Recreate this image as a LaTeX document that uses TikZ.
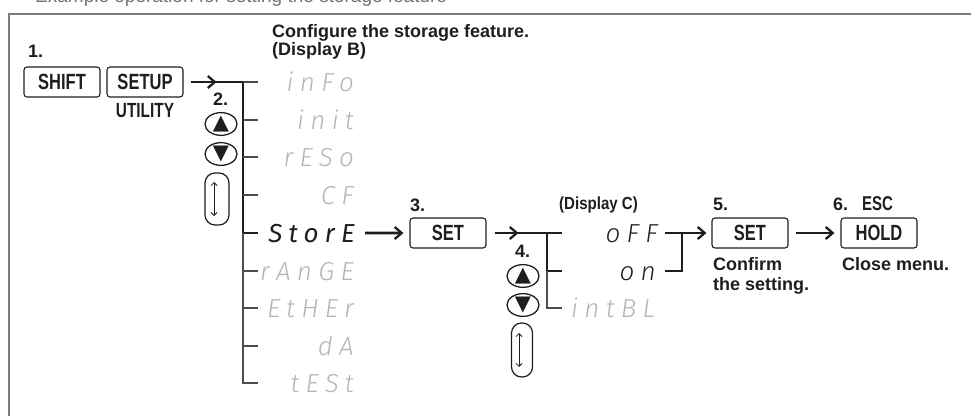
\documentclass[tikz,border=0pt]{standalone}
\usepackage{fontspec}
\setmainfont{Liberation Sans}
\newfontfamily\keyfont{Liberation Sans}[FakeStretch=0.75]
\newfontfamily\narrowfont{Liberation Sans}[FakeStretch=0.86]
\newfontfamily\segfont{Fira Sans Light Italic}[LetterSpace=24]
\newfontfamily\segfontB{Fira Sans Italic}[LetterSpace=24]
\newfontfamily\symfont{DejaVu Sans}
\usetikzlibrary{arrows.meta,shapes.geometric}
\definecolor{segoff}{HTML}{B4B4B4}
\definecolor{ink}{HTML}{1E1E1E}
\definecolor{framec}{HTML}{7A7A7A}
\begin{document}
\begin{tikzpicture}[x=1pt,y=-1pt,
  keybox/.style={draw=ink, line width=1.1pt, rounded corners=3pt, minimum width=76pt, minimum height=30pt, inner sep=0pt, text=ink, font=\keyfont\bfseries\fontsize{22}{22}\selectfont},
  lbl/.style={font=\bfseries\fontsize{18}{21}\selectfont, inner sep=0pt, anchor=base west, text=ink},
  seg/.style={font=\segfont\fontsize{26}{28}\selectfont, inner sep=0pt, anchor=base east, text=segoff},
  segon/.style={seg, text=ink},
  bus/.style={line width=2.6pt, draw=ink},
  tick/.style={line width=1.2pt, draw=black!70},
  arr/.style={bus, -{Straight Barb[length=7pt,width=12pt,line width=2.3pt]}},
  button/.style={draw=ink, ellipse, line width=1.3pt, minimum width=32pt, minimum height=22pt, inner sep=0pt, text=ink, font=\symfont\fontsize{21}{21}\selectfont},
  capsule/.style={draw=ink, line width=1.2pt, rounded corners=10pt, inner sep=0pt},
  dbl/.style={line width=0.8pt, draw=ink, {Straight Barb[length=3pt,width=6pt]}-{Straight Barb[length=3pt,width=6pt]}}
]
\useasboundingbox (0,0) rectangle (971,415);
% cut-off heading line and frame
\node[anchor=base west, inner sep=0pt, text=black!55, font=\fontsize{19}{21}\selectfont] (head) at (35,2) {Example operation for setting the storage feature};
\draw[framec, line width=1.6pt] (9,425) -- (9,14) -- (985,14);

% step 1
\node[lbl] (n1) at (28,57) {1.};
\node[keybox] (shift) at (62,82) {SHIFT};
\node[keybox] (setup) at (145,82) {SETUP};
\node[inner sep=0pt, text=ink, font=\keyfont\bfseries\fontsize{20.5}{21}\selectfont] (util) at (145,111) {UTILITY};

\node[lbl] (conf) at (272,37) {Configure the storage feature.};
\node[lbl] (dispB) at (272,55) {(Display B)};

% menu B
\node[seg] (iInfo) at (354,91) {inFo};
\node[seg] (iInit) at (354,129) {init};
\node[seg] (iReso) at (354,166) {rESo};
\node[seg] (iCF) at (354,204) {CF};
\node[segon, font=\segfontB\fontsize{26}{28}\selectfont] (iStore) at (355,242) {StorE};
\node[seg] (iRange) at (354,280) {rAnGE};
\node[seg] (iEther) at (354,317) {EtHEr};
\node[seg] (iDA) at (354,355) {dA};
\node[seg] (iTest) at (354,392) {tESt};

\coordinate (bA) at (243,82);
\coordinate (bB) at (243,120);
\coordinate (bC) at (243,157);
\coordinate (bD) at (243,195);
\coordinate (bE) at (243,233);
\coordinate (bF) at (243,271);
\coordinate (bG) at (243,308);
\coordinate (bH) at (243,346);
\coordinate (bI) at (243,383);

\draw[arr] ([xshift=7pt]setup.east) -- ([xshift=33pt]setup.east);
\draw[bus] ([xshift=30pt]setup.east) -- (bA) -- (bE) -- ++(15,0);
\draw[tick] (bA) -- ++(15,0);
\draw[tick] (bB) -- ++(15,0);
\draw[tick] (bC) -- ++(15,0);
\draw[tick] (bD) -- ++(15,0);
\draw[tick] (bE) -- (bI) -- ++(15,0);
\draw[tick] (bF) -- ++(15,0);
\draw[tick] (bG) -- ++(15,0);
\draw[tick] (bH) -- ++(15,0);

% step 2 buttons
\node[lbl] (n2) at (213,105) {2.};
\node[button] (up1) at (221,124) {▲};
\node[button] (dn1) at (221,154) {▼};
\node[capsule, minimum width=24pt, minimum height=52pt] (cap1) at (217,199) {};
\draw[dbl] ([xshift=-3pt,yshift=-17pt]cap1.center) -- ([xshift=-3pt,yshift=17pt]cap1.center);

% step 3
\node[lbl] (n3) at (410,211) {3.};
\node[keybox] (set1) at (448,233) {SET};
\draw[arr] ([xshift=10pt]iStore.east) -- ([xshift=-6pt]set1.west);

% menu C
\node[lbl, font=\narrowfont\bfseries\fontsize{17.5}{20}\selectfont] (dispC) at (559,209) {(Display C)};
\coordinate (cA) at (547,233);
\coordinate (cB) at (547,271);
\coordinate (cC) at (547,308);
\draw[arr] ([xshift=8pt]set1.east) -- ([xshift=32pt]set1.east);
\draw[bus] ([xshift=29pt]set1.east) -- (562,233);
\draw[bus] (cA) -- (cB) -- ++(15,0);
\draw[tick] (cB) -- (cC) -- ++(15,0);
\node[segon, font=\segfont\fontsize{26}{28}\selectfont] (cOff) at (658,242) {oFF};
\node[segon, font=\segfont\fontsize{26}{28}\selectfont] (cOn) at (656,280) {on};
\node[seg] (cInt) at (655,317) {intBL};

% step 4 buttons
\node[lbl] (n4) at (515,257) {4.};
\node[button] (up2) at (523,276) {▲};
\node[button] (dn2) at (523,305) {▼};
\node[capsule, minimum width=21pt, minimum height=54pt] (cap2) at (522,350) {};
\draw[dbl] ([xshift=-3pt,yshift=-17pt]cap2.center) -- ([xshift=-3pt,yshift=17pt]cap2.center);

% step 5
\node[lbl] (n5) at (713,210) {5.};
\node[keybox] (set2) at (750,233) {SET};
\coordinate (brT) at (682,233);
\coordinate (brB) at (682,271);
\draw[bus] (665,233) -- (brT);
\draw[bus] (665,271) -- (brB) -- (brT);
\draw[arr] (brT) -- ([xshift=-5pt]set2.west);
\node[lbl] (conf1) at (713,270) {Confirm};
\node[lbl] (conf2) at (713,290) {the setting.};

% step 6
\node[lbl] (n6) at (833,210) {6.};
\node[lbl, font=\keyfont\bfseries\fontsize{20}{20}\selectfont] (esc) at (862,210) {ESC};
\node[keybox] (hold) at (879,233) {HOLD};
\draw[arr] ([xshift=7pt]set2.east) -- ([xshift=-6pt]hold.west);
\node[lbl] (close) at (842,270) {Close menu.};
\end{tikzpicture}
\end{document}
